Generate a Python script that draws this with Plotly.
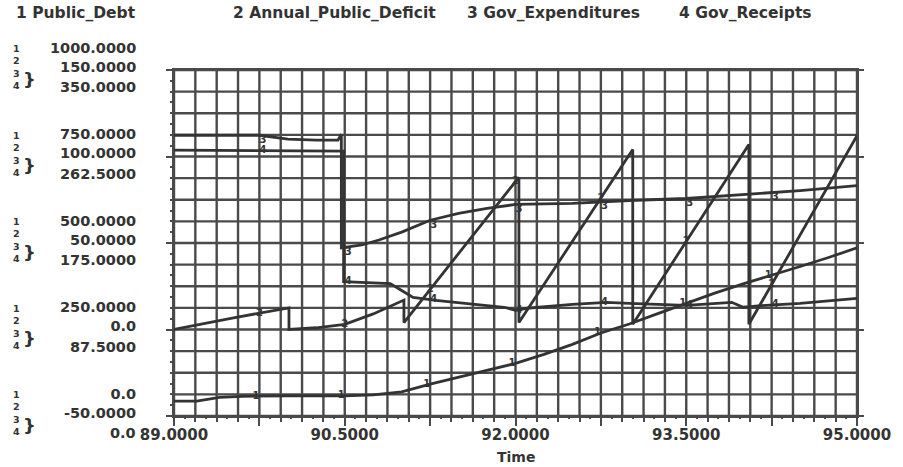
import numpy as np
import plotly.graph_objects as go

# ---------------- data ----------------
# 1 Public_Debt (left scale 0 .. 1000)
debt_t = [89.0, 89.2, 89.4, 89.6, 90.0, 90.5, 90.75, 91.0, 91.25, 91.5, 91.75, 92.0,
          92.25, 92.5, 92.75, 93.0, 93.25, 93.5, 93.75, 94.0, 94.25, 94.5, 94.75, 95.0]
debt_v = [43, 43, 54, 57, 58, 58, 61, 70, 92, 112, 131, 152,
          178, 207, 240, 266, 296, 326, 355, 382, 406, 432, 458, 486]

# 2 Annual_Public_Deficit (scale -50 .. 150), reset at each year end
deficit_t = [89.0, 89.5, 90.01, 90.01, 90.25, 90.5, 90.75, 91.02, 91.02,
             92.03, 92.03, 93.03, 93.03, 94.05, 94.05, 95.0]
deficit_v = [0, 6.5, 12.5, 0, 1, 3, 9, 17, 4,
             88, 4, 104, 3, 107, 3, 112]

# 3 Gov_Expenditures (scale 0 .. 350)
expend_t = [89.0, 89.75, 90.0, 90.25, 90.44, 90.47, 90.47, 90.65, 90.8, 91.0, 91.25,
            91.5, 91.75, 92.0, 92.5, 93.0, 93.5, 94.0, 94.5, 95.0]
expend_v = [284, 284, 280, 279, 279, 285, 170, 173, 178, 186, 198,
            205, 210, 214, 215, 218, 220, 224, 228, 233]

# 4 Gov_Receipts (scale 0 .. 350)
receipt_t = [89.0, 90.49, 90.49, 90.9, 91.0, 91.1, 91.3, 91.9, 92.0, 92.1, 92.5,
             92.8, 93.0, 93.5, 93.9, 94.0, 94.2, 94.5, 95.0]
receipt_v = [269, 268, 136, 134, 127, 120, 117, 110, 107, 109, 113,
             115, 114, 112, 115, 110, 112, 114, 119]

# axis scales and labels
debt_ticks = [1000, 750, 500, 250, 0]
deficit_ticks = [150, 100, 50, 0, -50]
spend_ticks = [350, 262.5, 175, 87.5, 0]
time_labels = [89.0, 90.5, 92.0, 93.5, 95.0]
label_times = [89.75, 90.5, 91.25, 92.0, 92.75, 93.5, 94.25]
series_names = ["Public_Debt", "Annual_Public_Deficit", "Gov_Expenditures", "Gov_Receipts"]

# ---------------- styling ----------------
INK = "#333333"
GRID = "#4a4a4a"
FONT = "DejaVu Sans"
L, R, T, B = 174, 39, 70, 51
W, H = 903, 467
PW, PH = W - L - R, H - T - B
label_pos = ["middle left", "middle center", "bottom right", "middle right"]


def fmt(v):
    return "0.0" if v == 0 else f"{v:.4f}"


def px_x(px):
    return (px - L) / PW


def px_y(py):
    return 1 - (py - T) / PH


fig = go.Figure()

series = [
    (debt_t, debt_v, "y"),
    (deficit_t, deficit_v, "y2"),
    (expend_t, expend_v, "y3"),
    (receipt_t, receipt_v, "y3"),
]
for i, (t, v, ax) in enumerate(series):
    fig.add_trace(go.Scatter(x=t, y=v, yaxis=ax, mode="lines",
                             line=dict(color=INK, width=2.8),
                             name=series_names[i], showlegend=False,
                             hoverinfo="skip"))
    # series numbers written on each curve
    lt = np.array(label_times)
    lv = np.interp(lt, np.array(t, float), np.array(v, float))
    fig.add_trace(go.Scatter(x=lt, y=lv, yaxis=ax, mode="text",
                             text=[str(i + 1)] * len(lt),
                             textfont=dict(family=FONT, size=10, color=INK, weight="bold"),
                             textposition=label_pos[i], showlegend=False,
                             hoverinfo="skip"))

grid17 = [k * 62.5 for k in range(17)]
fine33 = [k * 31.25 for k in range(33)]
xgrid = [89 + k * 0.1875 for k in range(33)]
xfine = [89 + k * 0.09375 for k in range(65)]
xmajor = [89 + k * 0.75 for k in range(9)]
xtext = [f"{v:.4f}" if any(abs(v - m) < 1e-9 for m in time_labels) else "" for v in xgrid]

tickfont = dict(family=FONT, size=15, color=INK, weight="bold")
scalefont = dict(family=FONT, size=14.5, color=INK, weight="bold")


def tick_axis(**kw):
    base = dict(showticklabels=False, showgrid=False, zeroline=False, showline=False,
                tickmode="array", ticks="outside", tickcolor=GRID)
    base.update(kw)
    return base


fig.update_layout(
    width=W, height=H,
    margin=dict(l=L, r=R, t=T, b=B),
    paper_bgcolor="white", plot_bgcolor="white",
    showlegend=False,
    xaxis=dict(range=[89, 95], tickmode="array", tickvals=xgrid, ticktext=xtext,
               ticks="outside", ticklen=4, tickwidth=2, tickcolor=GRID,
               showgrid=False, showline=True, linecolor=GRID, linewidth=2.4,
               mirror=True, zeroline=False, tickfont=tickfont),
    xaxis2=tick_axis(range=[89, 95], overlaying="x", side="bottom", anchor="y",
                     tickvals=xmajor, ticklen=9, tickwidth=2.4),
    xaxis3=tick_axis(range=[89, 95], overlaying="x", side="bottom", anchor="y",
                     tickvals=xfine, ticklen=2, tickwidth=1.5),
    yaxis=dict(range=[0, 1000], tickmode="array", tickvals=grid17, ticks="",
               showticklabels=False, showgrid=False,
               showline=True, linecolor=GRID, linewidth=2.4, mirror=True,
               zeroline=False),
    yaxis2=dict(range=[-50, 150], overlaying="y", visible=False),
    yaxis3=dict(range=[0, 350], overlaying="y", visible=False),
    yaxis4=tick_axis(range=[0, 1000], overlaying="y", side="left", anchor="x",
                     tickvals=debt_ticks, ticklen=7, tickwidth=2.4),
    yaxis5=tick_axis(range=[0, 1000], overlaying="y", side="right", anchor="x",
                     tickvals=debt_ticks, ticklen=6, tickwidth=2.4),
    yaxis6=tick_axis(range=[0, 1000], overlaying="y", side="left", anchor="x",
                     tickvals=fine33, ticklen=3, tickwidth=1.5),
)
# invisible anchors so every tick axis is drawn
for xa, ya in [("x2", "y"), ("x3", "y"), ("x", "y4"), ("x", "y5"), ("x", "y6")]:
    fig.add_trace(go.Scatter(x=[89], y=[0], xaxis=xa, yaxis=ya, mode="markers",
                             marker=dict(size=1, color="rgba(0,0,0,0)"),
                             showlegend=False, hoverinfo="skip"))

# chart-paper grid
shapes = []
for xv in xgrid:
    shapes.append(dict(type="line", xref="x", yref="paper", x0=xv, x1=xv, y0=0, y1=1,
                       line=dict(color=GRID, width=2.4), layer="below"))
for gv in grid17:
    shapes.append(dict(type="line", xref="paper", yref="y", x0=0, x1=1, y0=gv, y1=gv,
                       line=dict(color=GRID, width=2.4), layer="below"))

ann = []
# legend row across the top
legend_x = [12, 232, 468, 682]
for i, name in enumerate(series_names):
    ann.append(dict(xref="paper", yref="paper", x=px_x(legend_x[i]), y=px_y(13),
                    xanchor="left", yanchor="middle", showarrow=False,
                    text=f"{i + 1} {name}",
                    font=dict(family=FONT, size=15.5, color=INK, weight="bold")))

# stacked scale labels on the left
stack = "<br>".join(str(j + 1) for j in range(len(series_names)))
for k, dv in enumerate(debt_ticks):
    # debt and deficit values share one two-line label
    ann.append(dict(xref="paper", yref="y", x=px_x(137), y=dv, yshift=13,
                    xanchor="right", yanchor="middle", align="right", showarrow=False,
                    text=f"{fmt(dv)}<br>{fmt(deficit_ticks[k])}",
                    font=scalefont, borderpad=0))
    ann.append(dict(xref="paper", yref="y", x=px_x(137), y=dv, yshift=-17,
                    xanchor="right", yanchor="middle", showarrow=False,
                    text=fmt(spend_ticks[k]), font=scalefont, borderpad=0))
    ann.append(dict(xref="paper", yref="y", x=px_x(15), y=dv, yshift=3,
                    xanchor="center", yanchor="middle", showarrow=False,
                    text=stack, borderpad=0,
                    font=dict(family=FONT, size=9.5, color=INK, weight="bold")))
    ann.append(dict(xref="paper", yref="y", x=px_x(28), y=dv, yshift=-9,
                    xanchor="center", yanchor="middle", showarrow=False,
                    text="}", font=dict(family=FONT, size=18, color=INK, weight="bold")))

ann.append(dict(xref="paper", yref="paper", x=0.5, y=px_y(457),
                xanchor="center", yanchor="middle", showarrow=False,
                text="Time", font=dict(family=FONT, size=14, color=INK, weight="bold")))

fig.update_layout(annotations=ann, shapes=shapes)
fig.write_html("out.html")
